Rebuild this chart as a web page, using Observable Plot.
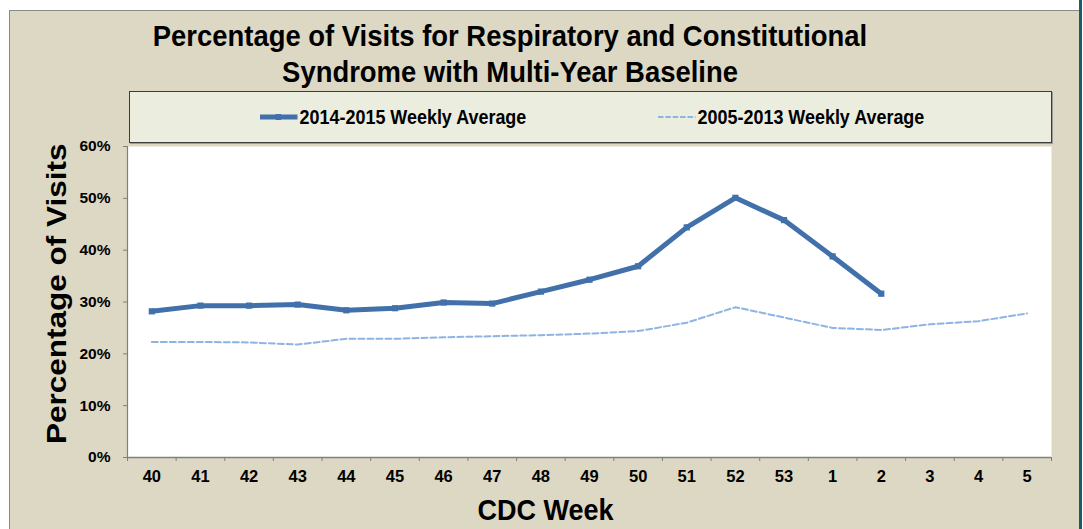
<!DOCTYPE html>
<html><head><meta charset="utf-8">
<script src="https://cdn.jsdelivr.net/npm/d3@7"></script>
<script src="https://cdn.jsdelivr.net/npm/@observablehq/plot@0.6"></script>
<style>
html,body{margin:0;padding:0;background:#fff;}
body{width:1083px;height:529px;overflow:hidden;position:relative;font-family:"Liberation Sans",Arial,sans-serif;font-weight:bold;color:#000;}
#panel{position:absolute;left:9px;top:10px;width:1070px;height:530px;background:#ddd8c3;border-top:1px solid #8a8a8a;border-left:1px solid #8a8a8a;box-sizing:border-box;}
#edge{position:absolute;left:1079px;top:0;width:3px;height:529px;background:#1d5a6a;}
#chart{position:absolute;left:0;top:0;}
.title{position:absolute;left:0;width:1020px;text-align:center;font-size:29.5px;line-height:29.5px;white-space:nowrap;transform:scaleX(0.93);transform-origin:510px 0;}
#legend{position:absolute;left:129px;top:91px;width:923px;height:52px;background:#ebeedf;border:1px solid #3c3c3c;box-sizing:border-box;box-shadow:1px 1px 0 #9a9a9a;}
.item{position:absolute;top:0;height:50px;display:flex;align-items:center;font-size:19.5px;white-space:nowrap;transform:scaleX(0.92);transform-origin:0 0;}
.item svg{margin-right:2px;}
.axlabel{position:absolute;font-size:30px;line-height:30px;white-space:nowrap;}
</style></head>
<body>
<div id="panel"></div>
<div id="edge"></div>
<div id="chart"></div>
<div id="t1" class="title" style="top:21px"></div>
<div id="t2" class="title" style="top:57px"></div>
<div id="legend"></div>
<div id="xlab" class="axlabel"></div>
<div id="ylab" class="axlabel"></div>
<script>
const titleLines = ["Percentage of Visits for Respiratory and Constitutional", "Syndrome with Multi-Year Baseline"];
const weeks = ["40","41","42","43","44","45","46","47","48","49","50","51","52","53","1","2","3","4","5"];
const seriesNames = ["2014-2015 Weekly Average", "2005-2013 Weekly Average"];
const season2014 = [28.2, 29.3, 29.3, 29.5, 28.4, 28.8, 29.9, 29.7, 32.0, 34.3, 36.9, 44.4, 50.1, 45.8, 38.8, 31.6];
const baseline = [22.3, 22.3, 22.2, 21.8, 22.9, 22.9, 23.2, 23.4, 23.6, 23.9, 24.4, 26.0, 29.0, 27.0, 25.0, 24.6, 25.7, 26.3, 27.8];
const yTicks = [0, 10, 20, 30, 40, 50, 60];
const xLabel = "CDC Week";
const yLabel = "Percentage of Visits";

const solidColor = "#4170aa";
const dashColor = "#8db4e2";

document.getElementById("t1").textContent = titleLines[0];
document.getElementById("t2").textContent = titleLines[1];

const d2014 = season2014.map((v, i) => ({i, v}));
const dBase = baseline.map((v, i) => ({i, v}));

const chart = Plot.plot({
  width: 1083, height: 529,
  marginLeft: 127, marginRight: 32, marginTop: 146, marginBottom: 72,
  style: {background: "transparent", fontFamily: "'Liberation Sans', Arial, sans-serif", fontWeight: "bold", color: "#000", overflow: "visible"},
  x: {type: "linear", domain: [-0.5, weeks.length - 0.5]},
  y: {domain: [0, 60]},
  marks: [
    Plot.frame({fill: "white", stroke: null}),
    Plot.axisY({ticks: yTicks, tickFormat: d => d + "%", tickSize: 4, tickPadding: 13, fontSize: 15.5, label: null, stroke: "#7f7f7f", fill: "#000"}),
    Plot.axisX({ticks: d3.range(weeks.length + 1).map(i => i - 0.5), tickFormat: () => "", tickSize: 4, label: null, stroke: "#7f7f7f"}),
    Plot.axisX({ticks: d3.range(weeks.length), tickFormat: i => weeks[i], tickSize: 0, tickPadding: 13, fontSize: 16.5, label: null, fill: "#000"}),
    Plot.ruleX([-0.5], {stroke: "#7f7f7f", strokeWidth: 1.2}),
    Plot.ruleY([0], {stroke: "#7f7f7f", strokeWidth: 1.5}),
    Plot.line(dBase, {x: "i", y: "v", stroke: dashColor, strokeWidth: 2, strokeDasharray: "6,3"}),
    Plot.line(d2014, {x: "i", y: "v", stroke: solidColor, strokeWidth: 5}),
    Plot.dot(d2014, {x: "i", y: "v", symbol: "square", r: 3.5, fill: solidColor})
  ]
});
document.getElementById("chart").appendChild(chart);

// legend
const legend = document.getElementById("legend");
const items = [
  {name: seriesNames[0], left: 130, svg: `<svg width="41" height="12"><line x1="0" y1="6" x2="41" y2="6" stroke="${solidColor}" stroke-width="5"/><rect x="17" y="3" width="6" height="6" fill="${solidColor}"/></svg>`},
  {name: seriesNames[1], left: 528, svg: `<svg width="41" height="12"><line x1="0" y1="6" x2="41" y2="6" stroke="${dashColor}" stroke-width="2" stroke-dasharray="6,2"/></svg>`}
];
for (const it of items) {
  const d = document.createElement("div");
  d.className = "item";
  d.style.left = it.left + "px";
  d.innerHTML = it.svg;
  const s = document.createElement("span");
  s.textContent = it.name;
  d.appendChild(s);
  legend.appendChild(d);
}

// axis labels
const xl = document.getElementById("xlab");
xl.textContent = xLabel;
xl.style.left = (545 - xl.offsetWidth / 2) + "px";
xl.style.top = "495px";
xl.style.transform = "scaleX(0.9)";
const yl = document.getElementById("ylab");
yl.style.fontSize = "31.5px";
yl.style.lineHeight = "31.5px";
yl.textContent = yLabel;
yl.style.left = (57 - yl.offsetWidth / 2) + "px";
yl.style.top = (294 - 16) + "px";
yl.style.transform = "rotate(-90deg) scaleY(0.9)";
</script>
</body></html>
